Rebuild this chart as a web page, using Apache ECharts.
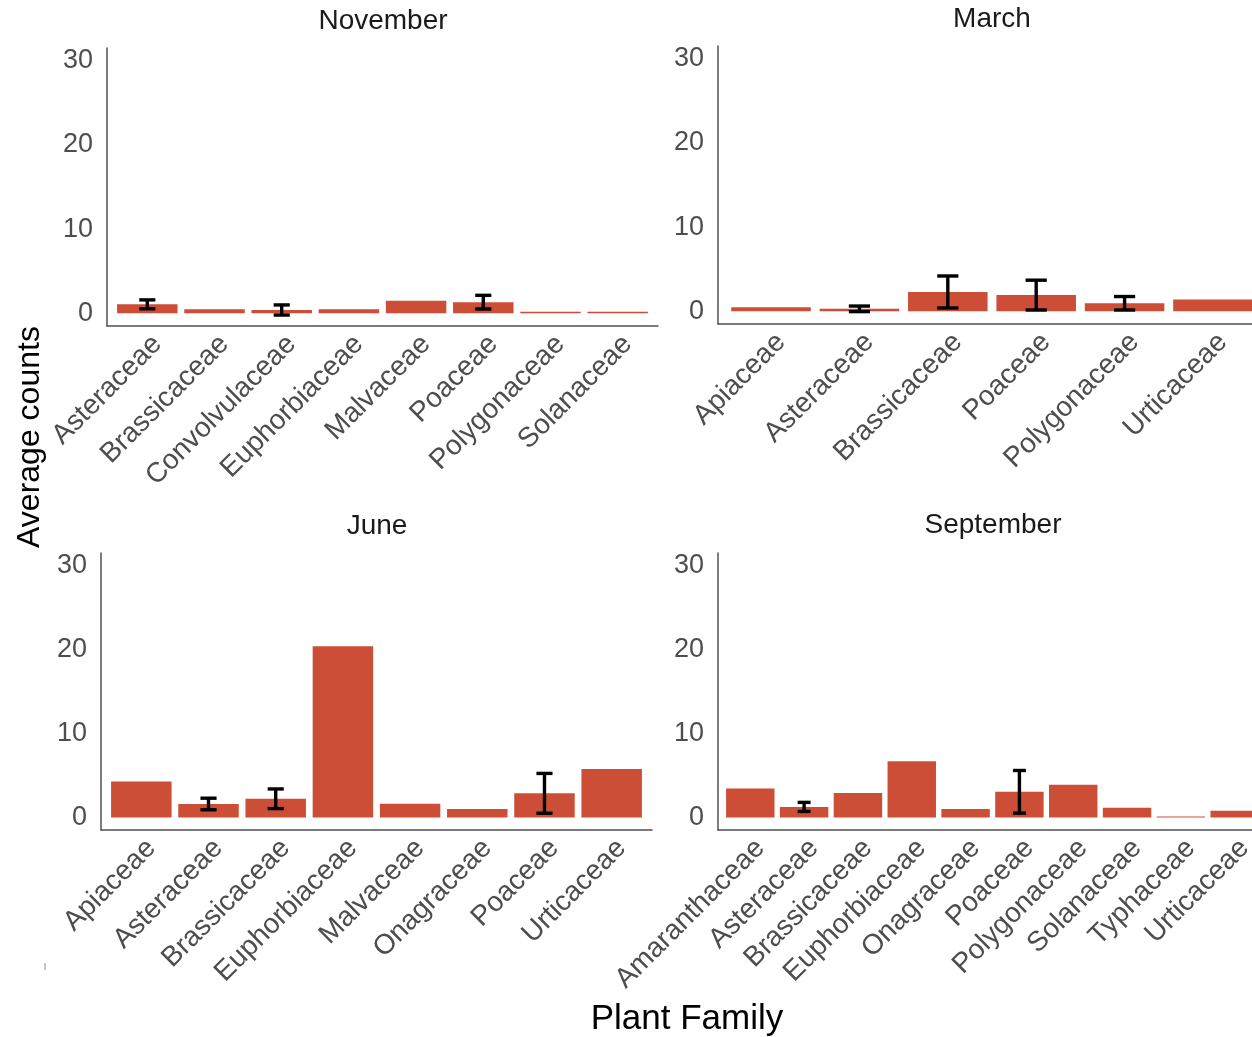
<!DOCTYPE html>
<html>
<head>
<meta charset="utf-8">
<script src="https://cdn.jsdelivr.net/npm/echarts@6/dist/echarts.min.js"></script>
<style>
  html, body { margin: 0; padding: 0; background: #ffffff; }
  #chart { width: 1252px; height: 1037px; }
</style>
</head>
<body>
<div id="chart"></div>
<script>
// Average counts per plant family, by sampling month (mean and standard error)
const yLabelValues = [0, 10, 20, 30];

const novFamilies = ['Asteraceae', 'Brassicaceae', 'Convolvulaceae', 'Euphorbiaceae', 'Malvaceae', 'Poaceae', 'Polygonaceae', 'Solanaceae'];
const novMeans    = [1.07, 0.5, 0.4, 0.5, 1.49, 1.33, 0.2, 0.2];
const novSE       = [0.53, null, 0.6, null, null, 0.81, null, null];

const marFamilies = ['Apiaceae', 'Asteraceae', 'Brassicaceae', 'Poaceae', 'Polygonaceae', 'Urticaceae'];
const marMeans    = [0.49, 0.3, 2.3, 1.93, 0.96, 1.4];
const marSE       = [null, 0.33, 1.9, 1.77, 0.8, null];

const junFamilies = ['Apiaceae', 'Asteraceae', 'Brassicaceae', 'Euphorbiaceae', 'Malvaceae', 'Onagraceae', 'Poaceae', 'Urticaceae'];
const junMeans    = [4.27, 1.6, 2.22, 20.4, 1.62, 0.99, 2.87, 5.77];
const junSE       = [null, 0.69, 1.17, null, null, null, 2.37, null];

const sepFamilies = ['Amaranthaceae', 'Asteraceae', 'Brassicaceae', 'Euphorbiaceae', 'Onagraceae', 'Poaceae', 'Polygonaceae', 'Solanaceae', 'Typhaceae', 'Urticaceae'];
const sepMeans    = [3.44, 1.25, 2.92, 6.68, 1.0, 3.05, 3.88, 1.16, 0.12, 0.8];
const sepSE       = [null, 0.54, null, null, null, 2.54, null, null, null, null];

const panels = [
  { title: 'November',  families: novFamilies, means: novMeans, se: novSE },
  { title: 'March',     families: marFamilies, means: marMeans, se: marSE },
  { title: 'June',      families: junFamilies, means: junMeans, se: junSE },
  { title: 'September', families: sepFamilies, means: sepMeans, se: sepSE }
];

// Facet layout (pixels); the right-hand facets run past the page edge
const boxes = [
  { left: 107, top: 48,  width: 551, height: 278, titleX: 383, titleY: 21 },
  { left: 718, top: 46,  width: 548, height: 278, titleX: 992, titleY: 19 },
  { left: 101, top: 553, width: 551, height: 277, titleX: 377, titleY: 526 },
  { left: 718, top: 553, width: 549, height: 277, titleX: 993, titleY: 525 }
];

const FONT = "'Liberation Sans', Arial, Helvetica, sans-serif";
const BAR_COLOR = '#cd4e37';
const AXIS_COLOR = '#505050';
const TICK_TEXT = '#4d4d4d';

const grids = [], xAxes = [], yAxes = [], series = [], graphics = [];

panels.forEach((p, i) => {
  const b = boxes[i];
  const n = p.families.length;
  const step = b.width / (n + 0.2);
  grids.push({ left: b.left, top: b.top, width: b.width, height: b.height,
               containLabel: false, outerBoundsMode: 'none' });

  xAxes.push({
    gridIndex: i,
    type: 'value',
    min: 0.4,
    max: n + 0.6,
    splitLine: { show: false },
    axisTick: { show: false },
    axisLine: { show: true, onZero: false, lineStyle: { color: AXIS_COLOR, width: 1.5 } },
    axisLabel: {
      customValues: p.families.map((_, k) => k + 1),
      formatter: v => p.families[Math.round(v) - 1] || '',
      rotate: 45,
      verticalAlign: 'top',
      margin: 4,
      color: TICK_TEXT,
      fontFamily: FONT,
      fontSize: 28
    }
  });

  yAxes.push({
    gridIndex: i,
    type: 'value',
    min: -1.5,
    max: 31.5,
    splitLine: { show: false },
    axisTick: { show: false },
    axisLine: { show: true, lineStyle: { color: AXIS_COLOR, width: 1.5 } },
    axisLabel: {
      customValues: yLabelValues,
      margin: 14,
      padding: [3, 0, 0, 0],
      color: TICK_TEXT,
      fontFamily: FONT,
      fontSize: 27
    }
  });

  series.push({
    type: 'bar',
    xAxisIndex: i,
    yAxisIndex: i,
    barWidth: step * 0.9,
    itemStyle: { color: BAR_COLOR },
    silent: true,
    data: p.means.map((m, k) => [k + 1, m])
  });

  const errData = [];
  p.means.forEach((m, k) => { if (p.se[k] != null) errData.push([k + 1, m, p.se[k]]); });

  series.push({
    type: 'custom',
    xAxisIndex: i,
    yAxisIndex: i,
    z: 5,
    silent: true,
    encode: { x: 0, y: 1 },
    data: errData,
    renderItem: function (params, api) {
      const x = api.value(0), m = api.value(1), s = api.value(2);
      const hi = api.coord([x, m + s]);
      const lo = api.coord([x, m - s]);
      const half = api.size([1, 0])[0] * 0.12;
      const st = { stroke: '#000000', lineWidth: 3.4 };
      return {
        type: 'group',
        children: [
          { type: 'line', shape: { x1: hi[0], y1: hi[1], x2: lo[0], y2: lo[1] }, style: st },
          { type: 'line', shape: { x1: hi[0] - half, y1: hi[1], x2: hi[0] + half, y2: hi[1] }, style: st },
          { type: 'line', shape: { x1: lo[0] - half, y1: lo[1], x2: lo[0] + half, y2: lo[1] }, style: st }
        ]
      };
    }
  });

  graphics.push({
    type: 'text', x: b.titleX, y: b.titleY,
    style: { text: p.title, textAlign: 'center', textVerticalAlign: 'middle',
             font: '28px ' + FONT, fill: '#1a1a1a' }
  });
});

// Shared axis titles
graphics.push({
  type: 'text', x: 30, y: 437, rotation: Math.PI / 2,
  style: { text: 'Average counts', textAlign: 'center', textVerticalAlign: 'middle',
           font: '32px ' + FONT, fill: '#000000' }
});
graphics.push({
  type: 'text', x: 687, y: 1019,
  style: { text: 'Plant Family', textAlign: 'center', textVerticalAlign: 'middle',
           font: '35px ' + FONT, fill: '#000000' }
});
// small stray tick at the lower left margin
graphics.push({
  type: 'line', shape: { x1: 45, y1: 963, x2: 45, y2: 970 },
  style: { stroke: '#8a8a8a', lineWidth: 1 }
});

const chart = echarts.init(document.getElementById('chart'), null, { renderer: 'canvas' });
chart.setOption({
  backgroundColor: '#ffffff',
  animation: false,
  grid: grids,
  xAxis: xAxes,
  yAxis: yAxes,
  series: series,
  graphic: graphics
});
</script>
</body>
</html>
